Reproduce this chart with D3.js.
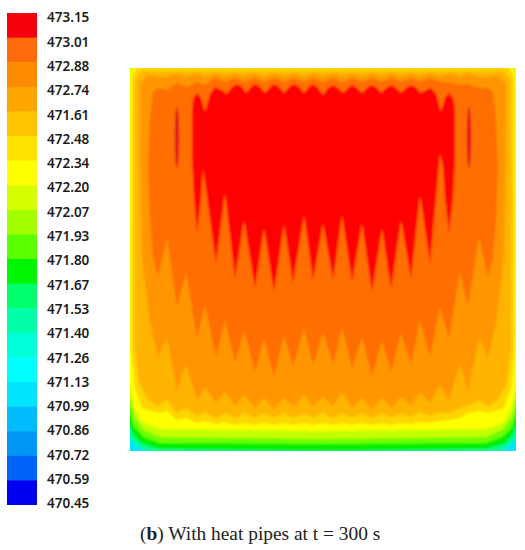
<!DOCTYPE html>
<html><head><meta charset="utf-8">
<script src="https://cdn.jsdelivr.net/npm/d3@7"></script>
<style>html,body{margin:0;padding:0;background:#fff}svg{display:block}</style>
</head><body><svg id="c" width="525" height="550"></svg>
<script>
// Legend
const legendLabels=["473.15","473.01","472.88","472.74","471.61","472.48","472.34","472.20","472.07","471.93","471.80","471.67","471.53","471.40","471.26","471.13","470.99","470.86","470.72","470.59","470.45"];
const legendColors=["#f5000f","#ff6a0a","#ff8c00","#ffa500","#ffc400","#ffe300","#ffff00","#d8ff00","#a4ff00","#5cff00","#00f500","#00ff6c","#00ffa8","#00ffd8","#00ffff","#00e4ff","#00bcff","#0098f4","#0064f8","#0000f0"];
// Plate coordinates: contour vertices sit on alternate pipes and gaps
const ridgeX=[28,37,47,56,67,75,86,95,105,114,125,134,144,154,163,174,183,193,203,212,222,232,242,252,261,271,281,290,300,310,319,330,338,349,358];
const plateW=386, plateH=383;
// Outer rim contours (half outline, mirrored)
const rim1=[[-4,-4],[-4,366],[0,369],[4,375],[12,381],[30,388],[193,390]];
const rim2=[[-4,-4],[-4,355],[0,358],[4,368],[12,376],[30,381],[193,383]];
const rim3=[[-4,-4],[-4,342],[0,345],[4,359],[14,369],[30,375],[193,376]];
const rim4=[[-4,-4],[-4,327],[0,330],[4,349],[14,362],[30,369],[193,371]];
const rim5=[[6,-4],[0,5],[-1,315],[4,340],[12,354],[30,361],[193,363]];
// Inner contours: upper and lower edges on ridgeX
const top6=[-4,-4,-4,-4,-4,-4,-4,-4,-4,-4,-4,-4,-4,-4,-4,-4,-4,-4,-4,-4,-4,-4,-4,-4,-4,-4,-4,-4,-4,-4,-4,-4,-4,-4,-4];
const low6=[345,343,352,350,355,353,356,354,357,355,357,355,357,355,357,355,357,355,357,355,357,355,357,355,357,355,356,354,355,353,352,350,345,343,345];
const side6=[[9,-4],[2,8],[1,280],[5,320],[12,340]];
const top7=[3,4,3,4,3,4,3,4,3,4,3,4,3,4,3,4,3,4,3,4,3,4,3,4,3,4,3,4,3,4,3,4,3,4,3];
const low7=[338,332,345,340,348,344,350,345,350,345,350,345,350,345,350,345,350,345,350,345,350,345,350,345,350,345,349,344,348,344,345,340,338,332,338];
const side7=[[12,3],[5,12],[5,280],[9,315],[18,332]];
const top8=[9,9,6,9,6,9,6,9,6,9,6,9,6,9,6,9,6,9,6,9,6,9,6,9,6,9,6,9,6,9,6,9,6,9,9];
const low8=[290,270,324,297,332,319,335,324,338,327,340,330,341,329,339,327,338,329,338,325,340,330,341,330,340,329,338,324,335,317,332,295,324,270,290];
const side8=[[18,7],[10,16],[10,100],[12,187],[15,215],[20,255]];
const top9=[20,22,15,19,14,17,10,14,10,14,10,14,10,14,10,14,10,14,10,14,10,14,10,14,10,14,10,14,10,14,14,17,16,20,20];
const low9=[209,169,239,204,270,237,289,252,295,262,304,270,309,267,299,260,297,264,297,260,300,269,308,272,304,265,296,252,289,239,270,204,239,169,209];
const side9=[[23,24],[20,50],[18,100],[20,150],[23,190]];
// Hot core
const coreTop=[[75,44],[80,26],[85,19],[91,22],[97,26],[102,19],[107,16],[112,19],[116,25],[121,19],[125,16],[130,19],[135,25],[140,19],[144,16],[149,19],[154,25],[159,19],[164,16],[169,19],[174,25],[179,19],[183,16],[188,20],[193,27],[198,20],[203,17],[208,20],[213,25],[218,20],[222,17],[227,20],[232,25],[237,20],[242,17],[247,20],[251,25],[256,20],[261,17],[266,20],[271,25],[276,20],[281,17],[286,20],[291,25],[296,22],[301,20],[306,26],[311,44]];
const coreRightLobe=[[315,30],[319,25],[323,30],[325,42],[325,90],[323,130],[319,165],[315,130],[313,100]];
const coreLow=[195,125,210,152,220,160,224,156,215,147,212,155,212,147,214,155,224,160,221,152,210,127,195,85];
const coreLeftLobe=[[73,100],[71,130],[67,165],[64,130],[62,90],[62,45],[63,31],[67,25],[71,30]];
const spindleX=[47,339], spindleTop=[39,39], spindleBottom=[100,100], spindleHalfWidth=[2.2,2.2];

const svg=d3.select("#c");
const defs=svg.append("defs");
defs.append("filter").attr("id","soft").attr("x","-5%").attr("y","-5%").attr("width","110%").attr("height","110%")
  .append("feGaussianBlur").attr("stdDeviation",0.9);
defs.append("filter").attr("id","softer").attr("x","-5%").attr("y","-5%").attr("width","110%").attr("height","110%")
  .append("feGaussianBlur").attr("stdDeviation",0.5);
const x=d3.scaleLinear().domain([0,plateW]).range([130,516]);
const y=d3.scaleLinear().domain([0,plateH]).range([68,451]);
defs.append("clipPath").attr("id","plate").append("rect").attr("x",x(0)).attr("y",y(0)).attr("width",x(plateW)-x(0)).attr("height",y(plateH)-y(0));
const line=d3.line().x(d=>x(d[0])).y(d=>y(d[1]));
const mirror=p=>[plateW-p[0],p[1]];
const rim=h=>h.concat(h.slice().reverse().map(mirror));
const ring=(t,l,s)=>{
  const topE=ridgeX.map((v,i)=>[v,t[i]]), lowE=ridgeX.map((v,i)=>[v,l[i]]).reverse();
  return [s[0]].concat(topE,s.map(mirror),lowE,s.slice(1).reverse());
};
const coreXs=ridgeX.slice(6,30);
const corePoly=coreTop.concat(coreRightLobe, coreXs.map((v,i)=>[v,coreLow[i]]).reverse(), coreLeftLobe);
const g=svg.append("g").attr("clip-path","url(#plate)").append("g").attr("filter","url(#soft)");
g.append("rect").attr("x",x(0)-6).attr("y",y(0)-6).attr("width",x(plateW)-x(0)+12).attr("height",y(plateH)-y(0)+12).attr("fill","#00e4ff");
const layers=[
 [rim(rim1),"#00ff90"],[rim(rim2),"#00f000"],[rim(rim3),"#70ff00"],[rim(rim4),"#c4ff00"],[rim(rim5),"#ffff00"],
 [ring(top6,low6,side6),"#ffd400"],[ring(top7,low7,side7),"#ffb400"],[ring(top8,low8,side8),"#ff9600"],[ring(top9,low9,side9),"#ff6e00"],
 [corePoly,"#ff0000"]];
g.selectAll("path.band").data(layers).join("path").attr("class","band")
 .attr("d",d=>line(d[0])+"Z").attr("fill",d=>d[1]);
g.selectAll("ellipse").data(spindleX).join("ellipse")
 .attr("cx",d=>x(d)).attr("cy",(d,i)=>y((spindleTop[i]+spindleBottom[i])/2))
 .attr("rx",(d,i)=>x(spindleHalfWidth[i])-x(0)).attr("ry",(d,i)=>(y(spindleBottom[i])-y(spindleTop[i]))/2)
 .attr("fill","#e2141a");

// Legend bar + labels
const barBands=d3.scaleBand().domain(d3.range(legendColors.length)).range([13,505]);
const legendClip=defs.append("clipPath").attr("id","legendClip").append("rect").attr("x",7).attr("y",13).attr("width",30).attr("height",492);
svg.append("g").attr("clip-path","url(#legendClip)").append("g").attr("filter","url(#softer)").selectAll("rect").data(legendColors).join("rect")
 .attr("x",3).attr("width",38).attr("y",(d,i)=>barBands(i)-(i==0?4:0)).attr("height",(d,i)=>barBands.bandwidth()+0.5+(i==0||i==legendColors.length-1?4:0)).attr("fill",d=>d);
const labelScale=d3.scalePoint().domain(legendLabels).range([17,503]);
const ax=svg.append("g").attr("transform","translate(47,0)").call(d3.axisRight(labelScale).tickSize(0).tickPadding(0));
ax.select(".domain").remove();
ax.selectAll("text").attr("font-family","'Noto Sans'").attr("font-size",13.5).attr("font-weight",600).attr("fill","#1c1c1c").attr("dy","0.36em");
// Caption
const cap=svg.append("text").attr("x",140).attr("y",540).attr("font-family","'Liberation Serif'").attr("font-size",19.4).attr("fill","#222");
cap.append("tspan").text("(");
cap.append("tspan").attr("font-weight","bold").text("b");
cap.append("tspan").text(") With heat pipes at t = 300 s");
</script></body></html>
